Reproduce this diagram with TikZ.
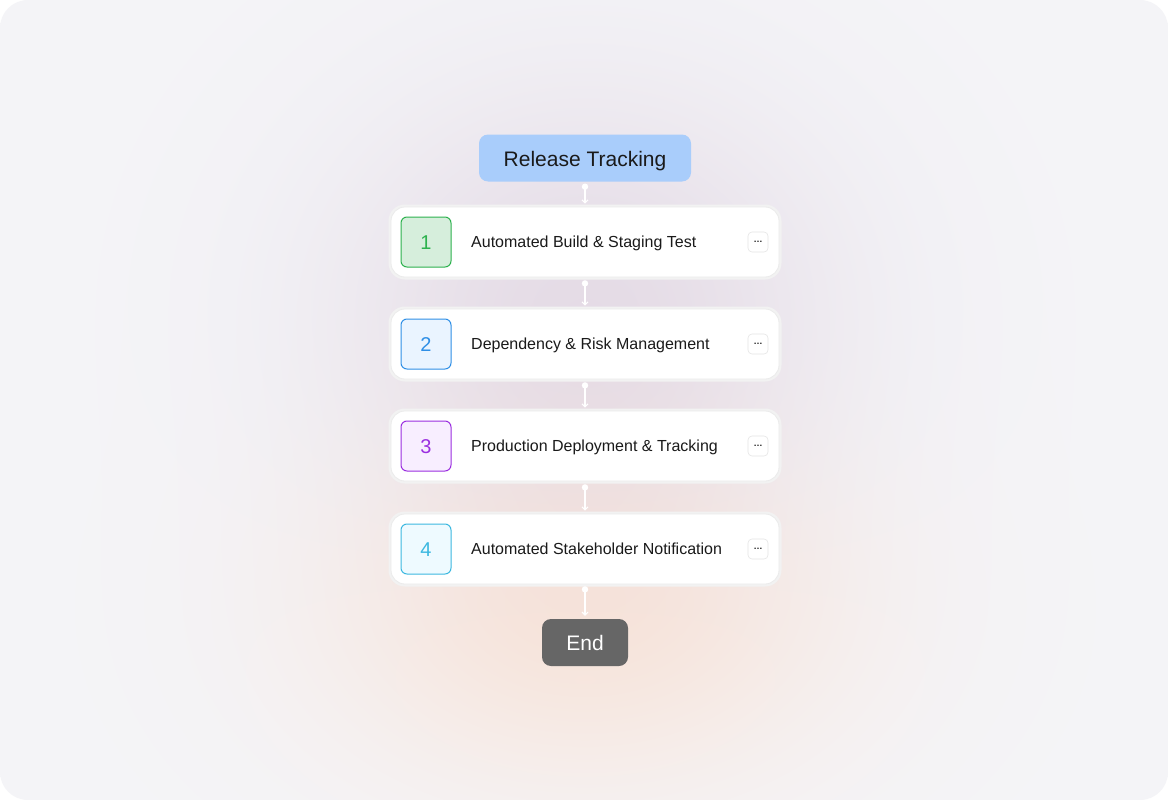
\documentclass[tikz,border=0pt]{standalone}
\usepackage{fontspec}
\setmainfont{Liberation Sans}
\usetikzlibrary{arrows.meta,calc}
\definecolor{bgc}{HTML}{F4F4F7}
\definecolor{relfill}{HTML}{A9CDFB}
\definecolor{endfill}{HTML}{666666}
\definecolor{txt}{HTML}{1A1A1A}
\definecolor{gfill}{HTML}{D6EEDC}\definecolor{gline}{HTML}{2DB24E}
\definecolor{bfill}{HTML}{EAF4FF}\definecolor{bline}{HTML}{2F8FE6}
\definecolor{pfill}{HTML}{F8EEFF}\definecolor{pline}{HTML}{9B2FE0}
\definecolor{cfill}{HTML}{EEFAFF}\definecolor{cline}{HTML}{3CB8E0}
\pgfdeclarefunctionalshading{glowsh}{\pgfpoint{-50bp}{-50bp}}{\pgfpoint{50bp}{50bp}}{}{
  2 copy
  5.625 sub 13.75 div dup mul
  exch 0.04 sub 10.7 div dup mul add
  neg 2.71828 exch exp
  3 1 roll
  -13.75 sub 10.6 div dup mul
  exch 0.04 sub 11.1 div dup mul add
  neg 2.71828 exch exp
  2 copy 0.015 mul exch -0.06 mul add 0.957 add
  3 1 roll
  2 copy -0.055 mul exch -0.095 mul add 0.957 add
  3 1 roll
  -0.105 mul exch -0.065 mul add 0.969 add
}
\tikzset{
  pill/.style={rounded corners=9pt, minimum height=47pt, inner sep=0pt, text height=16pt, text depth=0pt, font=\fontsize{21}{25}\selectfont},
  card/.style={draw=black!8, line width=0.8pt, fill=white, rounded corners=14pt, minimum width=388pt, minimum height=70pt, inner sep=0pt},
  cardshadow/.style={draw=black!5, line width=3pt, rounded corners=15pt, minimum width=390pt, minimum height=72pt, inner sep=0pt},
  numbox/.style={rounded corners=6pt, minimum width=50pt, minimum height=50pt, inner sep=0pt, line width=1pt, text height=15pt, text depth=0pt, font=\fontsize{20}{24}\selectfont},
  label/.style={anchor=west, inner sep=0pt, text=txt, text height=11.5pt, text depth=0pt, font=\fontsize{16}{19}\selectfont},
  dots/.style={draw=black!10, fill=white, rounded corners=4pt, minimum width=20pt, minimum height=20pt, inner sep=0pt, line width=0.6pt, font=\bfseries\fontsize{9}{10}\selectfont, text=txt},
  conn/.style={draw=white, line width=1.1pt, -{Straight Barb[length=3pt,width=6pt]}},
  dot/.style={fill=white}
}
\begin{document}
\begin{tikzpicture}[x=1pt,y=-1pt]
\useasboundingbox (0,0) rectangle (1168,800);
\fill[white] (0,0) rectangle (1168,800);
\shade[shading=glowsh, rounded corners=28pt] (0,0) rectangle (1168,800);
% start node
\node[pill, fill=relfill, minimum width=212pt, text=txt] (rel) at (585,158) {Release Tracking};
% cards
\foreach \i/\y in {1/242,2/344,3/446,4/549}{
  \node[cardshadow] (sh\i) at (585,\y) {};
}
\node[card] (c1) at (585,242) {};
\node[card] (c2) at (585,344) {};
\node[card] (c3) at (585,446) {};
\node[card] (c4) at (585,549) {};
\node[numbox, fill=gfill, draw=gline, text=gline] (n1) at (426,242) {1};
\node[numbox, fill=bfill, draw=bline, text=bline] (n2) at (426,344) {2};
\node[numbox, fill=pfill, draw=pline, text=pline] (n3) at (426,446) {3};
\node[numbox, fill=cfill, draw=cline, text=cline] (n4) at (426,549) {4};
\node[label] (t1) at (471,242) {Automated Build \& Staging Test};
\node[label] (t2) at (471,344) {Dependency \& Risk Management};
\node[label] (t3) at (471,446) {Production Deployment \& Tracking};
\node[label] (t4) at (471,549) {Automated Stakeholder Notification};
\node[dots] (d1) at (758,242) {…};
\node[dots] (d2) at (758,344) {…};
\node[dots] (d3) at (758,446) {…};
\node[dots] (d4) at (758,549) {…};
% end node
\node[pill, fill=endfill, minimum width=86pt, text=white] (end) at (585,642.5) {End};
% connectors
\coordinate (s0) at ($(rel.south)+(0,5)$);
\coordinate (s1) at ($(c1.south)+(0,6)$);
\coordinate (s2) at ($(c2.south)+(0,6)$);
\coordinate (s3) at ($(c3.south)+(0,6)$);
\coordinate (s4) at ($(c4.south)+(0,5)$);
\coordinate (e1) at ($(c1.north)+(0,-3)$);
\coordinate (e2) at ($(c2.north)+(0,-3)$);
\coordinate (e3) at ($(c3.north)+(0,-3)$);
\coordinate (e4) at ($(c4.north)+(0,-3)$);
\coordinate (e5) at ($(end.north)+(0,-3)$);
\foreach \a/\b in {s0/e1,s1/e2,s2/e3,s3/e4,s4/e5}{
  \fill[dot] (\a) circle (3.2);
  \draw[conn] (\a) -- (\b);
}
\end{tikzpicture}
\end{document}
